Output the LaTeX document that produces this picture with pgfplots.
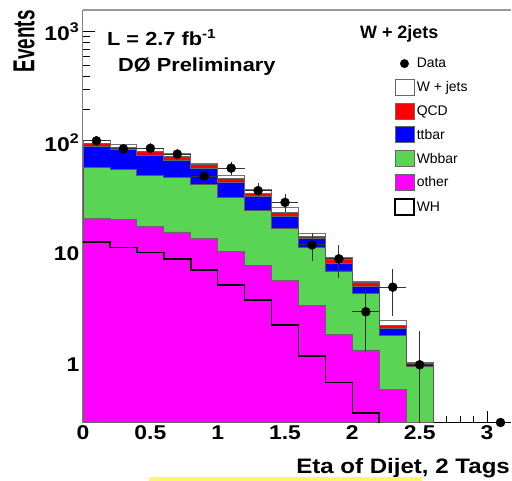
\documentclass[border=0pt]{standalone}
\usepackage{fontspec}
\setmainfont{Liberation Sans}
\usepackage{graphicx}
\usepackage{pgfplots}
\usepackage{pgfplotstable}
\pgfplotsset{compat=1.18}
\definecolor{wbb}{RGB}{89,212,84}
\definecolor{mag}{RGB}{255,0,255}
\definecolor{rd}{RGB}{255,0,0}
\definecolor{bl}{RGB}{0,0,255}
\definecolor{hl}{RGB}{255,245,110}
\newcommand\hs[1]{\scalebox{1.15}[1]{#1}}

\pgfplotstableread{
x   tot   qcd   tt    wbb   oth    wh
0.0 105.8 98.8  93.4  59.5  20.8   12.8
0.2 96.7  90.9  87.2  57.6  20.5   11.4
0.4 89.0  83.0  77.5  50.4  17.5   10.3
0.6 80.3  74.8  69.8  48.4  15.7   8.96
0.8 65.5  63.9  58.8  42.2  13.8   7.13
1.0 50.4  47.4  43.6  32.0  10.4   5.2
1.2 38.0  35.0  32.6  24.4  7.9    3.83
1.4 26.2  23.6  21.5  16.9  5.7    2.28
1.6 15.1  14.2  13.6  11.4  3.45   1.2
1.8 9.3   8.8   8.2   7.0   1.88   0.69
2.0 5.6   5.5   5.1   4.4   1.36   0.37
2.2 2.53  2.25  2.13  1.85  0.60   0.1
2.4 1.06  1.05  1.03  0.97  0.001  0.1
2.6 1.06  1.05  1.03  0.97  0.001  0.1
}\stack

\pgfplotstableread{
x   y   ex  ey
0.1 104 0.1 10.2
0.3 88  0.1 9.38
0.5 89  0.1 9.43
0.7 79  0.1 8.89
0.9 50  0.1 7.07
1.1 59  0.1 7.68
1.3 37  0.1 6.08
1.5 29  0.1 5.39
1.7 12  0.1 3.46
1.9 9   0.1 3.0
2.1 3   0.1 1.73
2.3 5   0.1 2.24
2.5 1   0.1 0.999
}\data

\begin{document}
\begin{tikzpicture}
\begin{axis}[
  scale only axis, width=428bp, height=412.5bp,
  ymode=log, log origin y=infty,
  xmin=0, xmax=3.178, ymin=0.302, ymax=1567,
  axis x line*=box, axis y line*=left,
  x axis line style={black, line width=0.8bp},
  y axis line style={black!50, line width=1bp},
  tick align=inside, xtick pos=bottom, ytick pos=left,
  major tick length=12bp, minor tick length=7bp,
  tick style={black, line width=0.6bp},
  xtick={0,0.5,1,1.5,2,2.5,3}, minor x tick num=4,
  xticklabels={\hs{0},\hs{0.5},\hs{1},\hs{1.5},\hs{2},\hs{2.5},\hs{3}},
  ytick={1,10,100,1000},
  yticklabels={\hs{1},\hs{10},\hs{10\textsuperscript{2}},\hs{10\textsuperscript{3}}},
  ticklabel style={font=\bfseries\fontsize{20}{20}\selectfont},
  xlabel={\hs{Eta of Dijet, 2 Tags}},
  xlabel style={at={(rel axis cs:0.9977,-0.1232)}, anchor=base east, inner sep=0pt, font=\bfseries\fontsize{21}{21}\selectfont},
  ylabel={\scalebox{1}[1.6]{Events}},
  ylabel style={at={(rel axis cs:-0.1374,1.0)}, anchor=east, inner sep=0pt, rotate=0, font=\bfseries\fontsize{19}{19}\selectfont},
  legend style={at={(rel axis cs:0.7266,0.890)}, anchor=north west, draw=none, fill=none, inner sep=0pt,
    row sep=7.1bp, font=\fontsize{14}{14}\selectfont},
  legend cell align=left,
]
\addlegendimage{legend image code/.code={\path[draw=none, fill=none] (0bp,-8bp) rectangle (19bp,8bp); \fill[black] (9.5bp,0bp) circle (4.2bp);}}
\addlegendimage{legend image code/.code={\draw[black!60, fill=white, line width=0.8bp] (0bp,-8bp) rectangle (19bp,8bp);}}
\addlegendimage{legend image code/.code={\draw[black!60, fill=rd, line width=0.8bp] (0bp,-8bp) rectangle (19bp,8bp);}}
\addlegendimage{legend image code/.code={\draw[black!60, fill=bl, line width=0.8bp] (0bp,-8bp) rectangle (19bp,8bp);}}
\addlegendimage{legend image code/.code={\draw[black!60, fill=wbb, line width=0.8bp] (0bp,-8bp) rectangle (19bp,8bp);}}
\addlegendimage{legend image code/.code={\draw[black!60, fill=mag, line width=0.8bp] (0bp,-8bp) rectangle (19bp,8bp);}}
\addlegendimage{legend image code/.code={\draw[black, fill=white, line width=1.6bp] (0bp,-8bp) rectangle (19bp,8bp);}}
\legend{Data, W + jets, QCD, ttbar, Wbbar, other, WH}

\addplot[forget plot, const plot, fill=white, draw=black!55, line width=0.8bp] table[x=x, y=tot] {\stack} \closedcycle;
\addplot[forget plot, const plot, fill=rd, draw=black!60, line width=0.8bp] table[x=x, y=qcd] {\stack} \closedcycle;
\addplot[forget plot, const plot, fill=bl, draw=black!60, line width=0.8bp] table[x=x, y=tt] {\stack} \closedcycle;
\addplot[forget plot, const plot, fill=wbb, draw=black!65, line width=0.8bp] table[x=x, y=wbb] {\stack} \closedcycle;
\addplot[forget plot, const plot, fill=mag, draw=black!60, line width=0.8bp] table[x=x, y=oth] {\stack} \closedcycle;
\addplot[forget plot, const plot, draw=black, line width=1.6bp] table[x=x, y=wh] {\stack};

\addplot[forget plot, only marks, mark=*, mark size=4.5bp, color=black,
  error bars/.cd, x dir=both, x explicit, y dir=both, y explicit,
  error mark=none, error bar style={black!80, line width=0.9bp}]
  table[x=x, y=y, x error=ex, y error=ey] {\data};
\addplot[forget plot, only marks, mark=*, mark size=4.5bp, color=black] coordinates {(3.1,0.302)};

\node[anchor=base west, font=\bfseries\fontsize{19}{19}\selectfont, inner sep=0pt] at (rel axis cs:0.056,0.915) {\hs{L = 2.7 fb\textsuperscript{-1}}};
\node[anchor=base west, font=\bfseries\fontsize{19}{19}\selectfont, inner sep=0pt] at (rel axis cs:0.0818,0.852) {\hs{D\O{} Preliminary}};
\node[anchor=base west, font=\bfseries\fontsize{18}{18}\selectfont, inner sep=0pt] at (rel axis cs:0.647,0.9314) {W + 2jets};
\end{axis}
\draw[black!40, line width=2bp] (0bp,412.5bp) -- (428bp,412.5bp);
\fill[hl] (66bp,-58.5bp) rectangle (338.7bp,-54.2bp);
\pgfresetboundingbox
\path[use as bounding box] (-83bp,-58.5bp) rectangle (429bp,422.5bp);
\end{tikzpicture}
\end{document}
